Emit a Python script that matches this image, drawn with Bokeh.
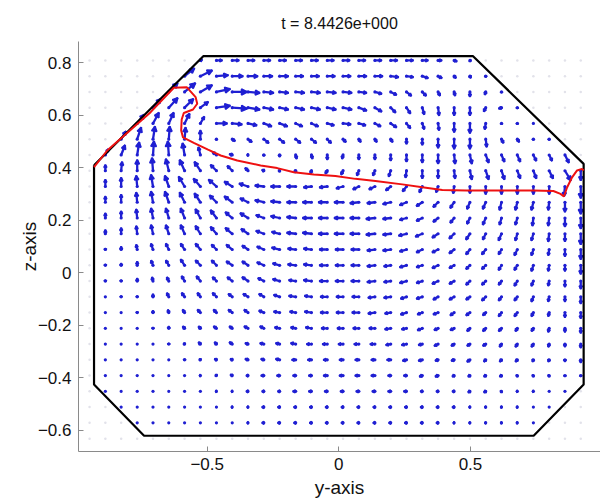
import numpy as np
from bokeh.plotting import figure
from bokeh.models import Range1d, FixedTicker
from bokeh.embed import file_html
from bokeh.resources import INLINE

TITLE = "t = 8.4426e+000"
X_LABEL = "y-axis"
Y_LABEL = "z-axis"
x_ticks = [-0.5, 0, 0.5]
y_ticks = [-0.6, -0.4, -0.2, 0, 0.2, 0.4, 0.6, 0.8]

# quiver grid: columns along y, rows along z (top row first)
grid_y = [-0.947, -0.887, -0.827, -0.766, -0.706, -0.646, -0.586, -0.526,
          -0.465, -0.405, -0.345, -0.285, -0.225, -0.164, -0.104, -0.044,
          0.016, 0.076, 0.137, 0.197, 0.257, 0.317, 0.377, 0.438,
          0.498, 0.558, 0.618, 0.678, 0.739, 0.799, 0.859, 0.919]
grid_z = [0.809, 0.749, 0.689, 0.629, 0.569, 0.509, 0.449, 0.389, 0.329,
          0.269, 0.209, 0.149, 0.089, 0.029, -0.031, -0.091, -0.151, -0.211,
          -0.271, -0.331, -0.391, -0.451, -0.511, -0.571, -0.631]

# first grid column inside the vessel, per row
in_lo = [7, 6, 5, 4, 3, 2, 1, 1, 1, 1, 1, 1, 1, 1, 1, 1, 1, 1, 1, 1, 1, 1, 2, 3]

# velocity components (horizontal u, vertical w) for the inside columns of each row
u00 = [2, 6, 7, 7, 7, 7, 7, 7, 7, 7, 7, 7, 7, 7, 6, 4, 3, 1]
w00 = [1, 0, 0, 0, 0, 0, 0, 0, 0, 0, 0, 0, 0, 0, 0, 0, -1, -1]
u01 = [10, 12, 12, 11, 10, 9, 9, 8, 8, 8, 8, 8, 8, 8, 7, 6, 4, 2, 1, 0]
w01 = [8, 6, 1, 0, 0, 0, 0, 0, 0, 0, 0, 0, 0, -1, -1, -2, -2, -2, -2, -1]
u02 = [9, 11, 12, 14, 15, 12, 10, 9, 9, 9, 9, 9, 8, 7, 6, 5, 4, 2, 1, 0, -1, 0]
w02 = [9, 9, 7, 3, 0, -1, -1, -1, -1, -1, -1, -1, -1, -2, -3, -4, -4, -4, -4, -5, -3, -1]
u03 = [8, 9, 9, 8, 14, 15, 12, 10, 9, 9, 9, 9, 9, 8, 7, 5, 4, 2, 1, 0, 0, -2, -3, 0]
w03 = [9, 10, 9, 6, 2, -1, -2, -2, -2, -2, -2, -2, -2, -3, -4, -5, -6, -7, -8, -8, -8, -4, -1, -1]
u04 = [7, 6, 5, 5, 4, 11, 10, 9, 8, 8, 7, 7, 7, 8, 7, 6, 6, 4, 2, 1, 0, 0, -1, 0, 0, 0]
w04 = [9, 11, 11, 10, 7, 0, -1, -2, -3, -3, -3, -3, -2, -1, -2, -3, -4, -5, -6, -7, -9, -10, -6, -1, -1, 0]
u05 = [5, 4, 2, 1, 1, 0, 0, 3, 4, 5, 5, 5, 5, 4, 3, 2, 2, 2, 0, 0, 0, 0, 0, 1, 2, 2, 0, 0]
w05 = [8, 12, 13, 13, 12, 9, -1, -2, -3, -4, -4, -4, -4, -4, -3, -3, -3, -3, -5, -6, -9, -10, -10, -8, -4, -3, -1, -1]
u06 = [3, 4, 2, 1, -1, -2, -2, -4, -3, -1, 0, 0, 1, 1, 0, -1, 0, 0, 0, 0, 0, 0, 1, 2, 3, 3, 3, 3, 3, 4]
w06 = [6, 10, 13, 14, 14, 12, 8, 3, 1, 0, -1, -2, -4, -4, -5, -4, -5, -5, -6, -7, -8, -9, -9, -9, -8, -7, -7, -6, -6, -8]
u07 = [0, 1, 0, -1, -3, -5, -6, -6, -5, -3, -2, -1, -1, -1, -2, -2, -2, -2, -2, -1, 0, 0, 1, 2, 3, 3, 3, 3, 4, 6, 0]
w07 = [6, 9, 11, 13, 12, 11, 9, 6, 5, 3, 1, -1, -2, -3, -3, -4, -5, -5, -6, -7, -8, -8, -8, -9, -9, -9, -8, -8, -8, -10, -10]
u08 = [0, 0, -1, -2, -4, -6, -7, -8, -8, -9, -9, -9, -9, -8, -8, -7, -6, -6, -5, -4, -3, -2, -1, 0, 0, 0, 0, 0, 0, -1, 0]
w08 = [7, 9, 11, 12, 11, 10, 8, 7, 5, 3, 1, 0, 0, -1, -1, -2, -3, -3, -4, -5, -6, -6, -7, -7, -8, -8, -8, -8, -8, -10, -12]
u09 = [0, 0, -1, -2, -4, -5, -6, -7, -8, -8, -9, -9, -9, -9, -9, -9, -9, -8, -8, -7, -6, -5, -4, -3, -3, -2, -2, -2, -1, 0, 0]
w09 = [6, 8, 10, 11, 11, 10, 9, 7, 6, 4, 2, 1, 0, 0, 0, 0, -1, -1, -2, -3, -4, -5, -6, -7, -7, -8, -8, -8, -8, -10, -12]
u10 = [0, 0, -1, -2, -3, -4, -5, -6, -7, -8, -8, -9, -9, -9, -9, -9, -9, -9, -8, -7, -6, -5, -4, -3, -3, -2, -2, -1, -1, 0, 0]
w10 = [5, 7, 9, 10, 10, 10, 9, 8, 6, 5, 3, 2, 1, 0, 0, 0, 0, -1, -1, -2, -3, -4, -5, -6, -7, -7, -7, -8, -8, -9, -11]
u11 = [0, 0, -1, -2, -3, -4, -5, -6, -7, -7, -8, -8, -9, -9, -9, -9, -9, -9, -8, -8, -7, -6, -5, -4, -3, -3, -2, -2, -1, 0, 0]
w11 = [4, 6, 8, 9, 9, 9, 8, 7, 6, 5, 3, 2, 1, 1, 0, 0, 0, -1, -1, -2, -3, -4, -5, -6, -6, -7, -7, -7, -8, -8, -11]
u12 = [0, 0, -1, -2, -3, -4, -5, -5, -6, -6, -7, -8, -8, -8, -8, -8, -8, -8, -8, -7, -6, -6, -5, -4, -4, -3, -3, -2, -1, 0, 0]
w12 = [1, 3, 5, 6, 6, 6, 6, 5, 5, 4, 3, 2, 1, 1, 0, 0, 0, -1, -1, -2, -3, -3, -4, -5, -5, -5, -6, -6, -6, -7, -10]
u13 = [0, 0, 0, -2, -3, -4, -5, -5, -6, -6, -7, -7, -8, -8, -8, -8, -8, -8, -7, -7, -6, -6, -5, -4, -4, -3, -3, -2, -1, 0, 0]
w13 = [1, 2, 4, 5, 5, 6, 5, 5, 4, 4, 3, 2, 1, 1, 0, 0, 0, -1, -1, -2, -2, -3, -3, -4, -4, -5, -5, -6, -6, -6, -9]
u14 = [0, 0, 0, -1, -2, -3, -4, -4, -5, -6, -6, -7, -7, -8, -8, -8, -8, -8, -7, -7, -6, -6, -5, -4, -4, -3, -3, -2, -1, 0, 0]
w14 = [1, 1, 3, 4, 4, 5, 5, 4, 4, 4, 3, 2, 1, 1, 0, 0, 0, -1, -1, -2, -2, -3, -3, -4, -4, -4, -5, -5, -5, -6, -8]
u15 = [0, 0, 0, 0, -2, -3, -3, -4, -4, -5, -5, -6, -7, -7, -7, -7, -7, -7, -7, -6, -6, -5, -5, -4, -4, -3, -3, -2, -1, 0, 0]
w15 = [0, 1, 1, 3, 4, 4, 4, 4, 3, 3, 3, 2, 1, 1, 0, 0, 0, -1, -1, -2, -2, -3, -3, -3, -4, -4, -4, -5, -5, -5, -7]
u16 = [0, 0, 0, 0, -1, -2, -3, -3, -4, -4, -5, -6, -6, -7, -7, -7, -7, -7, -6, -6, -5, -5, -4, -4, -3, -3, -3, -2, -1, 0, 0]
w16 = [0, 0, 1, 2, 3, 3, 3, 3, 3, 3, 2, 1, 1, 1, 0, 0, 0, -1, -1, -2, -2, -2, -3, -3, -3, -4, -4, -4, -4, -5, -6]
u17 = [0, 0, 0, 0, 0, -2, -2, -3, -3, -4, -4, -5, -5, -6, -6, -6, -6, -6, -6, -5, -5, -4, -4, -3, -3, -3, -2, -2, -1, 0, 0]
w17 = [0, 0, 0, 1, 2, 2, 2, 2, 2, 2, 2, 1, 1, 1, 0, 0, 0, 0, -1, -1, -2, -2, -2, -3, -3, -3, -3, -3, -4, -4, -5]
u18 = [0, 0, 0, 0, 0, -1, -2, -2, -3, -3, -4, -4, -5, -5, -5, -5, -5, -5, -5, -5, -4, -4, -3, -3, -3, -2, -2, -2, -1, 0, 0]
w18 = [0, 0, 0, 0, 1, 1, 2, 2, 2, 1, 1, 1, 1, 0, 0, 0, 0, 0, -1, -1, -1, -2, -2, -2, -2, -3, -3, -3, -3, -3, -4]
u19 = [0, 0, 0, 0, 0, 0, -1, -2, -2, -3, -3, -4, -4, -4, -4, -4, -4, -4, -4, -4, -4, -3, -3, -3, -2, -2, -2, -1, -1, 0, 0]
w19 = [0, 0, 0, 0, 0, 1, 1, 1, 1, 1, 1, 1, 0, 0, 0, 0, 0, 0, 0, -1, -1, -1, -1, -2, -2, -2, -2, -2, -2, -2, -3]
u20 = [0, 0, 0, 0, 0, 0, -1, -1, -2, -2, -3, -3, -3, -3, -4, -4, -4, -4, -3, -3, -3, -3, -2, -2, -2, -2, -1, -1, -1, 0, 0]
w20 = [0, 0, 0, 0, 0, 0, 0, 1, 1, 0, 0, 0, 0, 0, 0, 0, 0, 0, 0, 0, -1, -1, -1, -1, -1, -1, -1, -1, -1, -1, -1]
u21 = [0, 0, 0, 0, 0, 0, 0, -1, -1, -2, -2, -2, -3, -3, -3, -3, -3, -3, -3, -3, -2, -2, -2, -2, -2, -1, -1, -1, 0, 0]
w21 = [0, 0, 0, 0, 0, 0, 0, 0, 0, 0, 0, 0, 0, 0, 0, 0, 0, 0, 0, 0, 0, 0, 0, -1, -1, -1, 0, 0, 0, 0]
u22 = [0, 0, 0, 0, 0, 0, 0, -1, -1, -2, -2, -2, -2, -2, -2, -2, -2, -2, -2, -2, -2, -2, -1, -1, -1, -1, 0, 0]
w22 = [0, 0, 0, 0, 0, 0, 0, 0, 0, 0, 0, 0, 0, 0, 0, 0, 0, 0, 0, 0, 0, 0, 0, 0, 0, 0, 0, 0]
u23 = [0, 0, 0, 0, 0, 0, 0, -1, -2, -2, -2, -2, -2, -2, -2, -2, -2, -2, -2, -2, -1, -1, -1, -1, -1, 0]
w23 = [0, 0, 0, 0, 0, 0, 0, 0, 0, 0, 0, 0, 0, 0, 0, 0, 0, 0, 0, 0, 0, 0, 0, 0, 0, 0]

U_rows = [u00, u01, u02, u03, u04, u05, u06, u07, u08, u09, u10, u11,
          u12, u13, u14, u15, u16, u17, u18, u19, u20, u21, u22, u23]
W_rows = [w00, w01, w02, w03, w04, w05, w06, w07, w08, w09, w10, w11,
          w12, w13, w14, w15, w16, w17, w18, w19, w20, w21, w22, w23]
QUIVER_SCALE = 1.0 / 263.0   # field units -> axis units
PX = 1.0 / 263.0             # one screen pixel in axis units

# vessel wall (octagon) and free surface
wall_y = [-0.93, -0.515, 0.51, 0.93, 0.93, 0.74, -0.74, -0.93, -0.93]
wall_z = [0.41, 0.825, 0.825, 0.415, -0.425, -0.62, -0.62, -0.425, 0.41]
iface_y = [-0.930, -0.880, -0.715, -0.627, -0.578, -0.544, -0.538, -0.554, -0.589,
           -0.597, -0.599, -0.592, -0.551, -0.497, -0.449, -0.386, -0.297, -0.234,
           -0.171, -0.095, -0.013, 0.063, 0.139, 0.241, 0.317, 0.393, 0.485, 0.614,
           0.739, 0.815, 0.842, 0.855, 0.867, 0.886, 0.905, 0.924, 0.930]
iface_z = [0.403, 0.466, 0.612, 0.705, 0.707, 0.669, 0.644, 0.622, 0.609,
           0.584, 0.542, 0.516, 0.495, 0.469, 0.447, 0.428, 0.409, 0.399,
           0.383, 0.375, 0.369, 0.358, 0.350, 0.337, 0.326, 0.316, 0.314, 0.314,
           0.314, 0.312, 0.301, 0.291, 0.325, 0.364, 0.390, 0.396, 0.390]

FONT = "Liberation Sans"
BLUE = "#1f1fd2"

p = figure(width=600, height=504, output_backend="svg", toolbar_location=None,
           x_range=Range1d(-0.989, 0.994), y_range=Range1d(-0.680, 0.881),
           min_border_left=78, min_border_right=0, min_border_top=41,
           min_border_bottom=53, title=TITLE)
p.outline_line_color = None
p.xgrid.visible = False
p.ygrid.visible = False
p.title.align = "center"
p.title.text_font = FONT
p.title.text_font_size = "16px"
p.title.text_font_style = "normal"
p.title.text_color = "#111111"
p.title.standoff = 20

for ax, ticks, lab in ((p.xaxis[0], x_ticks, X_LABEL), (p.yaxis[0], y_ticks, Y_LABEL)):
    ax.ticker = FixedTicker(ticks=ticks)
    ax.axis_label = lab
    ax.axis_label_text_font = FONT
    ax.axis_label_text_font_size = "19px"
    ax.axis_label_text_font_style = "normal"
    ax.axis_label_text_color = "#111111"
    ax.major_label_text_font = FONT
    ax.major_label_text_font_size = "17px"
    ax.major_label_text_color = "#111111"
    ax.axis_line_color = "#8a8a8a"
    ax.major_tick_line_color = "#8a8a8a"
    ax.major_tick_in = 5
    ax.major_tick_out = 0
    ax.minor_tick_line_color = None
p.xaxis.major_label_standoff = 6
p.xaxis.axis_label_standoff = 4
p.yaxis.major_label_standoff = 7
p.yaxis.axis_label_standoff = -5

# grid points (faint) everywhere
gy, gz = np.meshgrid(grid_y, grid_z)
p.scatter(gy.ravel(), gz.ravel(), size=2.5, color="#e2e2ea", line_color=None)

# build arrows
tx, tz, heads_x, heads_z, dots_x, dots_z = [], [], [], [], [], []
for i, (lo, ru, rw) in enumerate(zip(in_lo, U_rows, W_rows)):
    for k, (u, w) in enumerate(zip(ru, rw)):
        x0 = grid_y[lo + k]
        z0 = grid_z[i]
        dots_x.append(x0)
        dots_z.append(z0)
        L = np.hypot(u, w)
        if L == 0:
            continue
        x1 = x0 + u * QUIVER_SCALE
        z1 = z0 + w * QUIVER_SCALE
        tx.append([x0, x1])
        tz.append([z0, z1])
        ex, ez = u / L, w / L
        Lpx = L * QUIVER_SCALE / PX
        hl = min(max(0.38 * Lpx, 2.6), Lpx) * PX
        hw = max(0.2 * Lpx, 1.5) * PX
        bx, bz = x1 - ex * hl, z1 - ez * hl
        heads_x.append([bx - ez * hw, x1, bx + ez * hw])
        heads_z.append([bz + ex * hw, z1, bz - ex * hw])

p.scatter(dots_x, dots_z, size=3.2, color=BLUE, line_color=None)
p.multi_line(tx, tz, line_color=BLUE, line_width=2.3)
p.patches(heads_x, heads_z, fill_color=BLUE, line_color=BLUE, line_width=1.6)

p.line(wall_y, wall_z, line_color="black", line_width=2.2)
p.line(iface_y, iface_z, line_color="#ee1111", line_width=2)

open("out.html", "w").write(file_html(p, INLINE))
